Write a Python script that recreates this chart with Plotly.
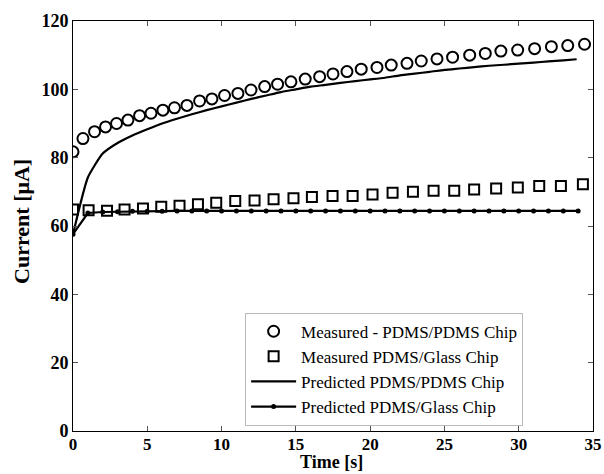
import plotly.graph_objects as go

# Measured PDMS/PDMS chip (circles)
t_meas_pp = [0, 0.67, 1.45, 2.19, 2.93, 3.7, 4.48, 5.25, 6.05, 6.83, 7.67, 8.52, 9.35,
             10.2, 11.1, 11.98, 12.9, 13.77, 14.67, 15.63, 16.6, 17.5, 18.44, 19.4,
             20.46, 21.42, 22.48, 23.44, 24.5, 25.55, 26.7, 27.75, 28.8, 29.93, 31.07,
             32.2, 33.3, 34.43]
i_meas_pp = [81.7, 85.6, 87.6, 89.0, 90.0, 91.0, 92.3, 93.0, 93.9, 94.6, 95.3, 96.6, 97.2,
             98.2, 98.8, 99.8, 100.8, 101.5, 102.2, 103.0, 103.7, 104.5, 105.2, 105.9,
             106.4, 107.1, 107.6, 108.3, 108.9, 109.4, 110.0, 110.5, 111.2, 111.5, 111.9,
             112.5, 112.8, 113.2]

# Measured PDMS/Glass chip (squares)
t_meas_pg = [0, 1.05, 2.29, 3.47, 4.71, 5.94, 7.17, 8.41, 9.64, 10.92, 12.22, 13.5, 14.84,
             16.08, 17.47, 18.82, 20.16, 21.51, 22.88, 24.27, 25.66, 27.0, 28.48, 29.94,
             31.38, 32.84, 34.32]
i_meas_pg = [64.8, 64.6, 64.5, 64.8, 65.1, 65.6, 65.9, 66.4, 66.8, 67.3, 67.5, 67.8, 68.1,
             68.5, 68.8, 68.8, 69.2, 69.7, 70.0, 70.3, 70.3, 70.7, 71.0, 71.3, 71.7, 71.7,
             72.2]

# Predicted PDMS/PDMS chip (solid line)
t_pred_pp = [0, 1, 2, 3, 4, 5, 6, 7, 8, 9, 10, 11, 12, 13, 14, 15, 16, 17, 18, 19, 20,
             21, 22, 23, 24, 25, 26, 27, 28, 29, 30, 31, 32, 33, 33.9]
i_pred_pp = [57.6, 74.2, 81.2, 84.3, 86.5, 88.3, 90.0, 91.4, 92.7, 93.9, 95.0, 96.1, 97.2,
             98.2, 99.2, 100.0, 100.8, 101.3, 101.9, 102.4, 102.9, 103.4, 104.1, 104.6,
             105.1, 105.7, 106.1, 106.5, 106.9, 107.2, 107.5, 107.8, 108.2, 108.5, 108.8]

# Predicted PDMS/Glass chip (line with dots)
t_pred_pg = list(range(0, 35))
i_pred_pg = [57.6, 63.8, 64.1, 64.2, 64.3, 64.3, 64.3, 64.4, 64.4, 64.4, 64.4, 64.4, 64.4,
             64.4, 64.4, 64.4, 64.4, 64.4, 64.4, 64.4, 64.4, 64.4, 64.4, 64.4, 64.4, 64.4,
             64.4, 64.4, 64.4, 64.4, 64.4, 64.4, 64.4, 64.4, 64.4]

x_ticks = [0, 5, 10, 15, 20, 25, 30, 35]
y_ticks = [0, 20, 40, 60, 80, 100, 120]
x_title = "Time [s]"
y_title = "Current [μA]"

serif = "Liberation Serif"

fig = go.Figure()
fig.add_trace(go.Scatter(x=t_meas_pp, y=i_meas_pp, mode="markers",
                         name="Measured - PDMS/PDMS Chip",
                         marker=dict(symbol="circle-open", size=11, color="black",
                                     line=dict(width=2, color="black"))))
fig.add_trace(go.Scatter(x=t_meas_pg, y=i_meas_pg, mode="markers",
                         name="Measured PDMS/Glass Chip",
                         marker=dict(symbol="square-open", size=10, color="black",
                                     line=dict(width=2, color="black"))))
fig.add_trace(go.Scatter(x=t_pred_pp, y=i_pred_pp, mode="lines",
                         name="Predicted PDMS/PDMS Chip",
                         line=dict(color="black", width=2.2, shape="spline", smoothing=0.5)))
fig.add_trace(go.Scatter(x=t_pred_pg, y=i_pred_pg, mode="lines+markers",
                         name="Predicted PDMS/Glass Chip",
                         line=dict(color="black", width=2.2),
                         marker=dict(symbol="circle", size=5, color="black")))

fig.update_layout(
    width=604, height=474,
    margin=dict(l=73, r=11, t=21, b=43),
    paper_bgcolor="white", plot_bgcolor="white",
    showlegend=True,
    legend=dict(x=0.331, y=0.2885, xanchor="left", yanchor="top",
                bgcolor="white", bordercolor="#bbbbbb", borderwidth=1,
                font=dict(family=serif, size=17, color="black"),
                tracegroupgap=0, itemwidth=45),
    font=dict(family=serif, color="black"),
    annotations=[
        dict(text=x_title, xref="paper", yref="paper", x=0.497, y=-0.0765,
             xanchor="center", yanchor="middle", showarrow=False,
             font=dict(family=serif, size=18, color="black", weight="bold")),
        dict(text=y_title, xref="paper", yref="paper", x=-0.098, y=0.51,
             xanchor="center", yanchor="middle", showarrow=False, textangle=-90,
             font=dict(family=serif, size=22, color="black", weight="bold")),
    ],
)
fig.update_xaxes(range=[0, 35], tickvals=x_ticks, ticktext=[str(v) for v in x_ticks],
                 ticks="inside", ticklen=5, tickcolor="#555555", mirror="ticks",
                 showline=True, linecolor="black", linewidth=1, showgrid=False,
                 zeroline=False, automargin=False, ticklabelstandoff=-2,
                 tickfont=dict(family=serif, size=17, color="black", weight="bold"))
fig.update_yaxes(range=[0, 120], tickvals=y_ticks, ticktext=[str(v) for v in y_ticks],
                 ticks="inside", ticklen=5, tickcolor="#555555", mirror="ticks",
                 showline=True, linecolor="black", linewidth=1, showgrid=False,
                 zeroline=False, automargin=False,
                 tickfont=dict(family=serif, size=18, color="black", weight="bold"))

fig.write_html("out.html")
